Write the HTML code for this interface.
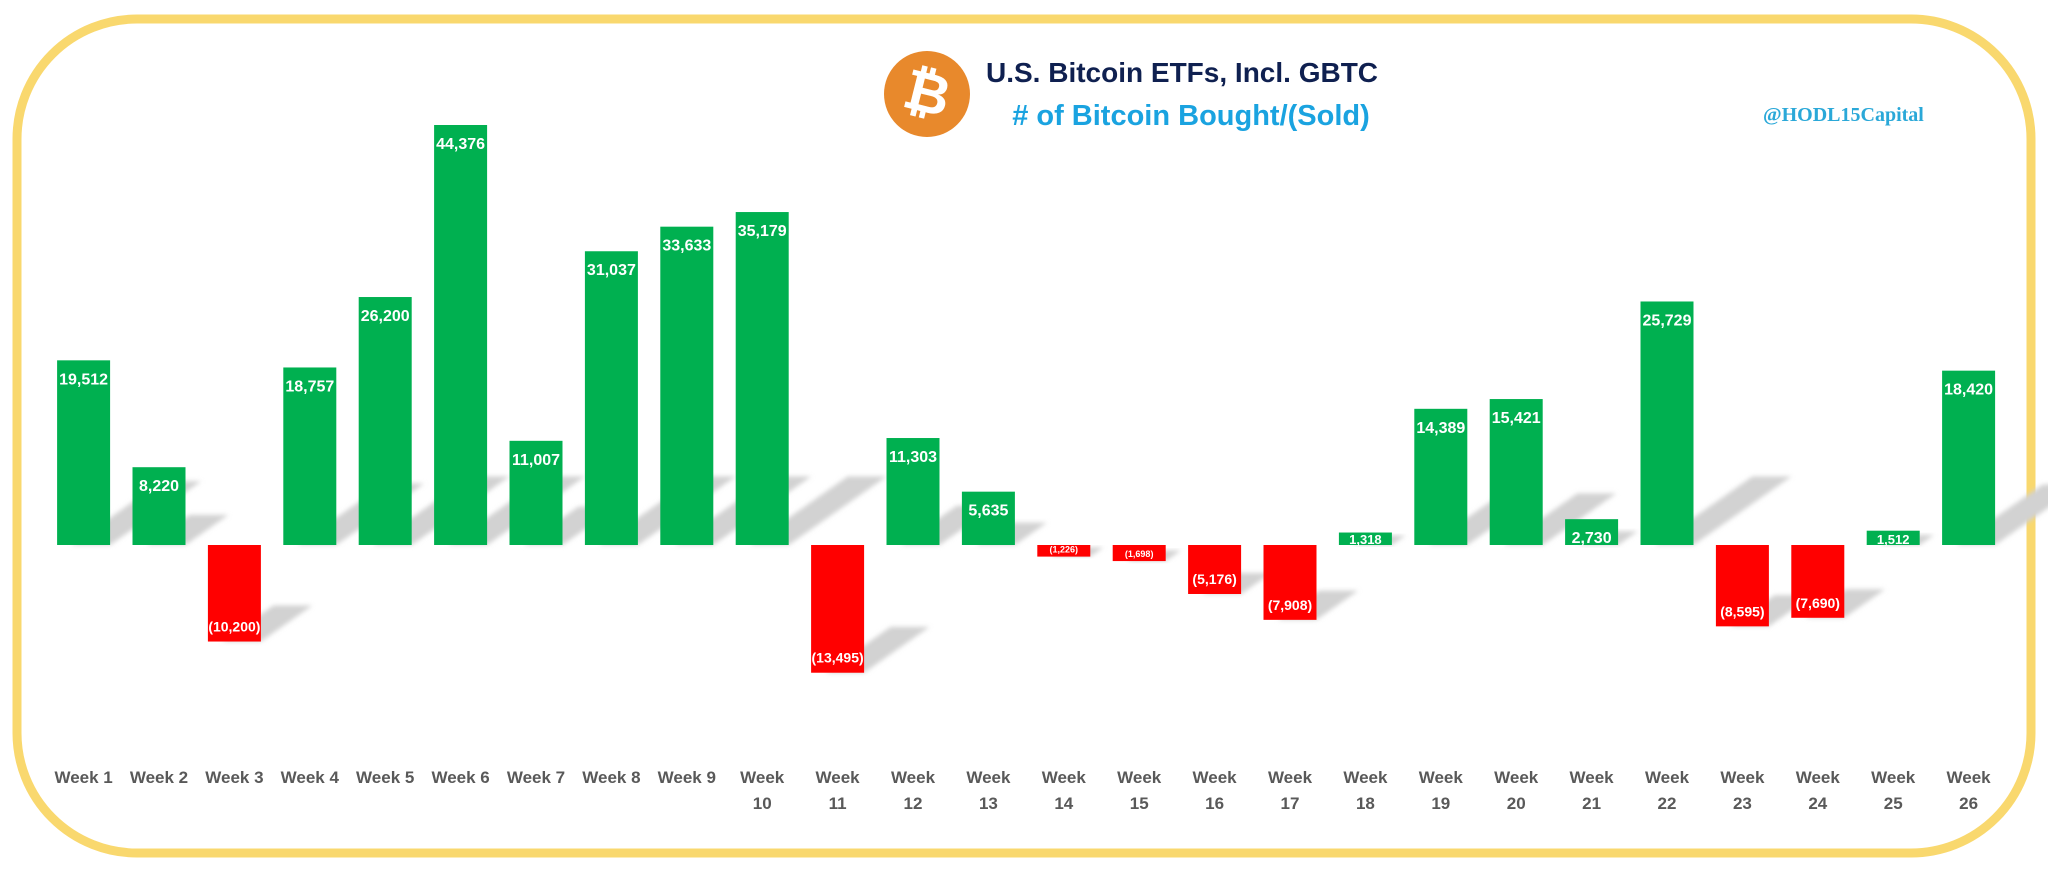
<!DOCTYPE html>
<html><head><meta charset="utf-8"><style>
html,body{margin:0;padding:0;background:#fff;}
body{width:2048px;height:872px;overflow:hidden;position:relative;font-family:"Liberation Sans",sans-serif;}
</style></head><body>
<svg id="chart" width="2048" height="872" xmlns="http://www.w3.org/2000/svg">
  <defs>
    <filter id="blur" x="-20%" y="-20%" width="140%" height="140%"><feGaussianBlur stdDeviation="2.5"/></filter>
  </defs>
  <rect x="17" y="19" width="2014" height="834" rx="120" ry="120" fill="#fff" stroke="#F9D86E" stroke-width="9"/>
  <g>
    <circle cx="927" cy="94" r="43" fill="#E8892C"/>
    <text x="927" y="112" text-anchor="middle" font-family="Liberation Sans, sans-serif" font-weight="bold" font-size="56" fill="#fff" transform="rotate(14 927 94)">₿</text>
  </g>
  <text x="986" y="82" font-family="Liberation Sans, sans-serif" font-weight="bold" font-size="28" fill="#0F2050">U.S. Bitcoin ETFs, Incl. GBTC</text>
  <text x="1191" y="125" text-anchor="middle" font-family="Liberation Sans, sans-serif" font-weight="bold" font-size="29" fill="#1AA3E0"># of Bitcoin Bought/(Sold)</text>
  <text x="1763" y="121" font-family="Liberation Serif, serif" font-weight="bold" font-size="20" fill="#2AA8D8">@HODL15Capital</text>
  <g id="shadows"></g>
  <g id="bars"></g>
  <g id="labels"></g>
</svg>
<script>
const categories = ["Week 1","Week 2","Week 3","Week 4","Week 5","Week 6","Week 7","Week 8","Week 9","Week 10","Week 11","Week 12","Week 13","Week 14","Week 15","Week 16","Week 17","Week 18","Week 19","Week 20","Week 21","Week 22","Week 23","Week 24","Week 25","Week 26"];
const values = [19512,8220,-10200,18757,26200,44376,11007,31037,33633,35179,-13495,11303,5635,-1226,-1698,-5176,-7908,1318,14389,15421,2730,25729,-8595,-7690,1512,18420];
const valueLabels = ["19,512","8,220","(10,200)","18,757","26,200","44,376","11,007","31,037","33,633","35,179","(13,495)","11,303","5,635","(1,226)","(1,698)","(5,176)","(7,908)","1,318","14,389","15,421","2,730","25,729","(8,595)","(7,690)","1,512","18,420"];

const NS = "http://www.w3.org/2000/svg";
const zeroY = 545, pxPerUnit = 420/44376;
const x0 = 83.6, step = 75.4, barW = 53;
function xScale(i){ return x0 + i*step; }
function yScale(v){ return zeroY - v*pxPerUnit; }

const gS = document.getElementById('shadows');
const gB = document.getElementById('bars');
const gL = document.getElementById('labels');

values.forEach((v,i)=>{
  const cx = xScale(i);
  const xl = cx - barW/2, xr = cx + barW/2;
  const yTop = Math.min(yScale(v), zeroY);
  const h = Math.abs(yScale(v) - zeroY);
  const sh = document.createElementNS(NS,'polygon');
  
  
  const base = v >= 0 ? zeroY : yScale(v);
  const len = Math.min(h*0.45, 90) + 8;
  const dy = len*0.7;
  sh.setAttribute('points', `${xl+14},${base} ${xr},${base} ${xr+len},${base-dy} ${xl+14+len},${base-dy}`);
  sh.setAttribute('fill', '#d2d2d2');
  sh.setAttribute('filter', 'url(#blur)');
  gS.appendChild(sh);

  const r = document.createElementNS(NS,'rect');
  
  
  r.setAttribute('x', xl); r.setAttribute('y', yTop);
  r.setAttribute('width', barW); r.setAttribute('height', Math.max(h,1));
  r.setAttribute('fill', v >= 0 ? '#00B050' : '#FF0000');
  gB.appendChild(r);

  const t = document.createElementNS(NS,'text');
  
  
  const small = Math.abs(v) < 2000;
  t.setAttribute('font-size', small ? (v<0?9:13) : (v<0?14:16));
  t.setAttribute('font-weight', 'bold');
  t.setAttribute('fill', '#fff');
  t.setAttribute('font-family', 'Liberation Sans, sans-serif');
  t.setAttribute('text-anchor', 'middle');
  t.setAttribute('x', cx);
  let ty;
  if (v >= 0) ty = small ? zeroY - 1 : yTop + 24;
  else ty = small ? zeroY + h - 4 : zeroY + h - 10;
  t.setAttribute('y', ty);
  t.textContent = valueLabels[i];
  gL.appendChild(t);

  const parts = categories[i].split(' ');
  const lab = document.createElementNS(NS,'text');
  
  
  lab.setAttribute('font-size', 17);
  lab.setAttribute('font-weight', 'bold');
  lab.setAttribute('fill', '#595959');
  lab.setAttribute('font-family', 'Liberation Sans, sans-serif');
  lab.setAttribute('text-anchor', 'middle');
  if (i < 9) {
    lab.setAttribute('x', cx); lab.setAttribute('y', 783);
    lab.textContent = categories[i];
  } else {
    const t1 = document.createElementNS(NS,'tspan');
    t1.setAttribute('x', cx); t1.setAttribute('y', 783); t1.textContent = parts[0];
    const t2 = document.createElementNS(NS,'tspan');
    t2.setAttribute('x', cx); t2.setAttribute('y', 809); t2.textContent = parts[1];
    lab.appendChild(t1); lab.appendChild(t2);
  }
  gL.appendChild(lab);
});
</script>
</body></html>
